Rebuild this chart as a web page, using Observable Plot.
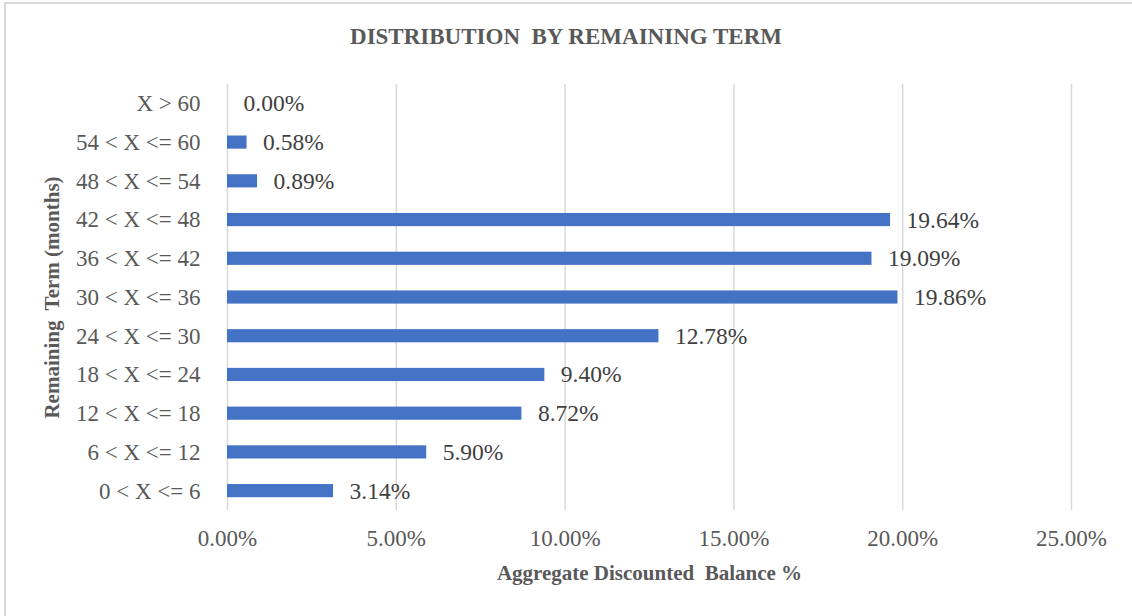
<!DOCTYPE html>
<html>
<head>
<meta charset="utf-8">
<script src="https://cdn.jsdelivr.net/npm/d3@7"></script>
<script src="https://cdn.jsdelivr.net/npm/@observablehq/plot@0.6"></script>
<style>
  html, body { margin: 0; padding: 0; background: #fff; }
  #wrap { position: relative; width: 1132px; height: 616px; overflow: hidden; font-family: "Liberation Serif", "Times New Roman", serif; }
  #frame { position: absolute; left: 4px; top: 2px; width: 1140px; height: 640px; border-left: 2px solid #d9d9d9; border-top: 2px solid #d9d9d9; box-sizing: border-box; }
  #title { position: absolute; left: 0; top: 0; width: 1132px; height: 64px; text-align: center; line-height: 74px; font-weight: bold; font-size: 23px; color: #595959; }
  #chart { position: absolute; left: 0; top: 64px; }
</style>
</head>
<body>
<div id="wrap">
  <div id="frame"></div>
  <div id="title">DISTRIBUTION&nbsp; BY REMAINING TERM</div>
  <div id="chart"></div>
</div>
<script>
const categories = ["X > 60", "54 < X <= 60", "48 < X <= 54", "42 < X <= 48", "36 < X <= 42", "30 < X <= 36", "24 < X <= 30", "18 < X <= 24", "12 < X <= 18", "6 < X <= 12", "0 < X <= 6"];
const values = [0.00, 0.58, 0.89, 19.64, 19.09, 19.86, 12.78, 9.40, 8.72, 5.90, 3.14];
const xTicks = [0, 5, 10, 15, 20, 25];
const xTitle = "Aggregate Discounted  Balance %";
const yTitle = "Remaining  Term (months)";

const data = categories.map((c, i) => ({term: c, value: values[i]}));
const fmt = v => v.toFixed(2) + "%";

const chart = Plot.plot({
  width: 1132,
  height: 552,
  marginLeft: 227,
  marginRight: 61,
  marginTop: 20,
  marginBottom: 106,
  style: {fontFamily: "'Liberation Serif', 'Times New Roman', serif", fontSize: "23px", color: "#595959", background: "transparent"},
  x: {domain: [0, 25]},
  y: {domain: categories, paddingInner: 0.66, paddingOuter: 0.33, round: false},
  marks: [
    Plot.gridX(xTicks, {stroke: "#d9d9d9", strokeOpacity: 1, strokeWidth: 1.5}),
    Plot.barX(data, {x: "value", y: "term", fill: "#4472c4"}),
    Plot.text(data, {x: "value", y: "term", text: d => fmt(d.value), textAnchor: "start", dx: 16, fill: "#404040", fontSize: 23.5}),
    Plot.axisX(xTicks, {tickSize: 0, tickPadding: 19, tickFormat: fmt, fontSize: 23, fill: "#595959", label: null}),
    Plot.axisY({tickSize: 0, tickPadding: 27, fontSize: 23, fill: "#595959", label: null}),
    Plot.text([xTitle], {frameAnchor: "bottom", dy: 69, fontWeight: "bold", fontSize: 21, fill: "#595959"}),
    Plot.text([yTitle], {frameAnchor: "left", textAnchor: "middle", dx: -175, rotate: -90, fontWeight: "bold", fontSize: 21, fill: "#595959"})
  ]
});
document.getElementById("chart").appendChild(chart);
</script>
</body>
</html>
